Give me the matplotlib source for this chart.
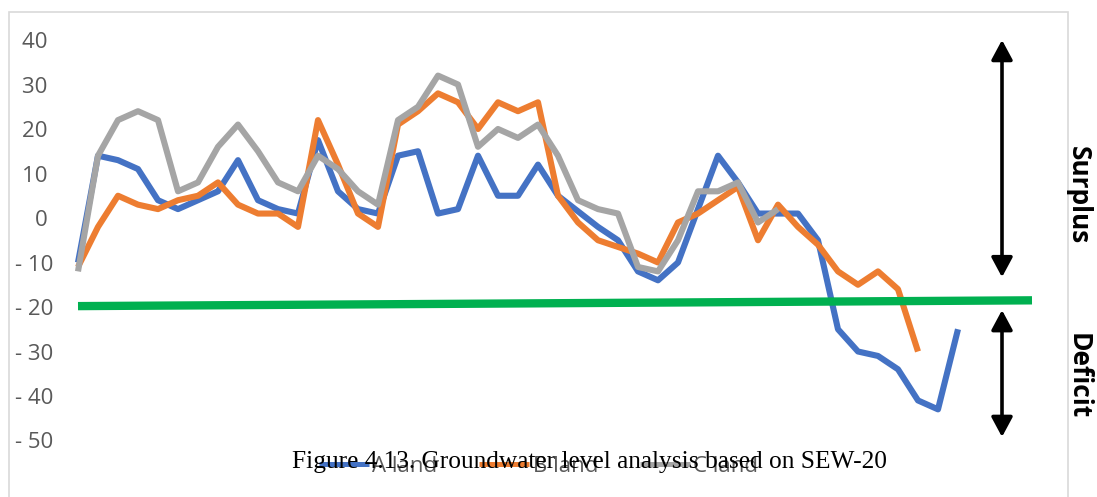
import matplotlib
matplotlib.use('Agg')
import matplotlib.pyplot as plt
from matplotlib.patches import Rectangle
from matplotlib.ticker import FuncFormatter

plt.rcParams['font.family'] = ['Open Sans', 'DejaVu Sans']

# Groundwater level balance per period
a_land = [-10, 14, 13, 11, 4, 2, 4, 6, 13, 4, 2, 1, 17.5, 6, 2, 1, 14, 15, 1, 2,
          14, 5, 5, 12, 5, 1.5, -2, -5, -12, -14, -10, 2, 14, 8, 1, 1, 1, -5,
          -25, -30, -31, -34, -41, -43, -25]
b_land = [-11, -2, 5, 3, 2, 4, 5, 8, 3, 1, 1, -2, 22, 12, 1, -2, 21, 24, 28, 26,
          20, 26, 24, 26, 5, -1, -5, -6.5, -8, -10, -1, 1, 4, 7, -5, 3, -2, -6,
          -12, -15, -12, -16, -30]
c_land = [-12, 14, 22, 24, 22, 6, 8, 16, 21, 15, 8, 6, 14, 11, 6, 3, 22, 25, 32,
          30, 16, 20, 18, 21, 14, 4, 2, 1, -11, -12, -5, 6, 6, 8, -1, 2]

series_names = ['A land', 'B land', 'C land']
series_values = [a_land, b_land, c_land]
series_colors = ['#4472C4', '#ED7D31', '#A5A5A5']

# threshold line (drawn slightly tilted)
threshold_x = [0, 47.7]
threshold_y = [-19.8, -18.5]

y_ticks = [40, 30, 20, 10, 0, -10, -20, -30, -40, -50]

fig = plt.figure(figsize=(10.97, 4.97), dpi=100, facecolor='white')
W, H = 1097, 497

# axes placed in pixel terms
left, right, top, bottom = 60, 1040, 30, 450
ax = fig.add_axes([left / W, 1 - bottom / H, (right - left) / W, (bottom - top) / H])
ax.set_xlim((left - 78) / 20, (right - 78) / 20)
ax.set_ylim((218 - bottom) / 4.45, (218 - top) / 4.45)

for name, vals, col in zip(series_names, series_values, series_colors):
    ax.plot(range(len(vals)), vals, color=col, linewidth=4.4, label=name,
            solid_joinstyle='round', solid_capstyle='butt')

ax.plot(threshold_x, threshold_y, color='#00B050', linewidth=6,
        solid_capstyle='butt', zorder=5)

# surplus / deficit arrows
arrow_x = 46.2
for y0, y1 in [(-13.3, 40.0), (-49.2, -20.7)]:
    ax.annotate('', xy=(arrow_x, y1), xytext=(arrow_x, y0),
                arrowprops=dict(arrowstyle='<|-|>,head_length=0.8,head_width=0.43',
                                mutation_scale=15, color='black', lw=2.6,
                                shrinkA=0, shrinkB=0),
                annotation_clip=False)

def fmt(v, pos):
    v = int(round(v))
    if v < 0:
        return f'- {abs(v)}'
    return f'{v} '

ax.set_yticks(y_ticks)
ax.yaxis.set_major_formatter(FuncFormatter(fmt))
ax.tick_params(axis='y', length=0, pad=5, labelsize=16, labelcolor='#595959')
ax.set_xticks([])
for s in ax.spines.values():
    s.set_visible(False)
ax.patch.set_alpha(0)

fig.text(1078 / W, 1 - 195 / H, 'Surplus', rotation=270, ha='center', va='center',
         fontsize=19, fontweight='bold', color='black')
fig.text(1078 / W, 1 - 376 / H, 'Deficit', rotation=270, ha='center', va='center',
         fontsize=19, fontweight='bold', color='black')

leg = ax.legend(loc='center', bbox_to_anchor=(538.5 / W, 1 - 466 / H),
                bbox_transform=fig.transFigure, ncol=3, frameon=False,
                fontsize=16, handlelength=2.25, handletextpad=0.15,
                columnspacing=1.9, labelcolor='#595959')
for line in leg.get_lines():
    line.set_linewidth(3.6)

fig.text(589.5 / W, 1 - 468 / H,
         'Figure 4.13. Groundwater level analysis based on SEW-20',
         ha='center', va='baseline', fontsize=18.3, family='Liberation Serif',
         color='black', zorder=10)

# chart border
fig.patches.append(Rectangle((9 / W, -0.05), (1068 - 9) / W, (1 - 12 / H) + 0.05,
                             transform=fig.transFigure, fill=False,
                             edgecolor='#D9D9D9', linewidth=1.2))

fig.savefig('out.png', dpi=100, facecolor='white')
